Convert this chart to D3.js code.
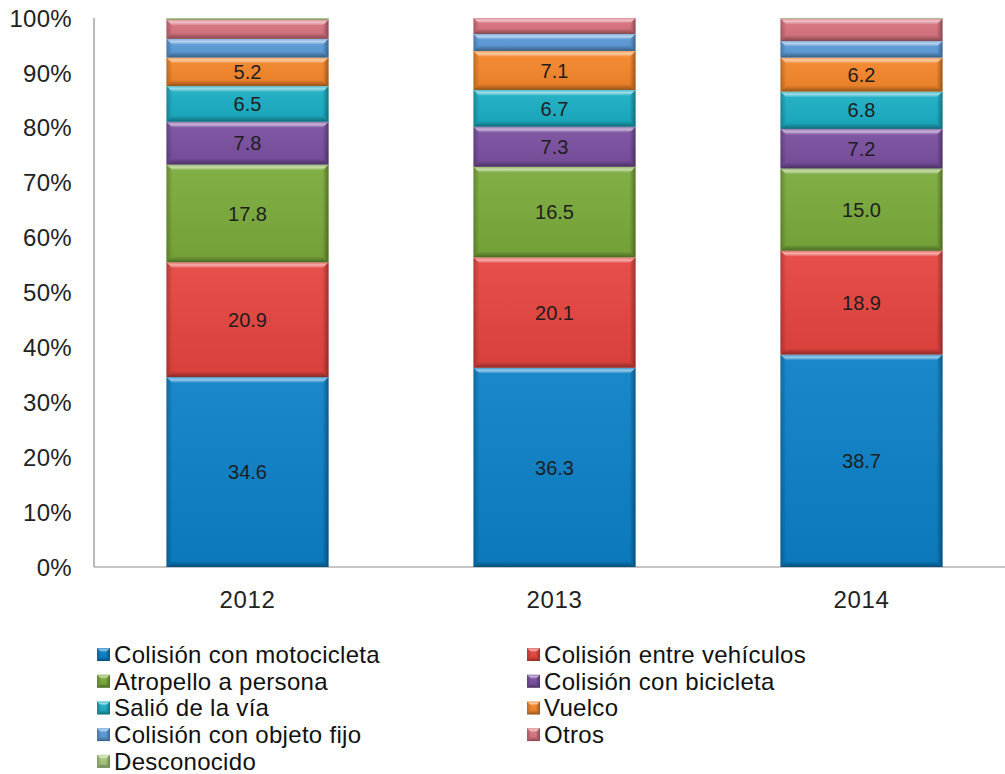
<!DOCTYPE html>
<html>
<head>
<meta charset="utf-8">
<script src="https://cdn.jsdelivr.net/npm/d3@7/dist/d3.min.js"></script>
<style>
  html, body { margin: 0; padding: 0; background: #fff; }
  svg { display: block; font-family: "Liberation Sans", Arial, sans-serif; }
</style>
</head>
<body>
<svg id="chart" width="1005" height="774"></svg>
<script>
// Years on the horizontal axis
const years = ["2012", "2013", "2014"];

// Accident types, stacked bottom to top
const seriesNames = [
  "Colisión con motocicleta",
  "Colisión entre vehículos",
  "Atropello a persona",
  "Colisión con bicicleta",
  "Salió de la vía",
  "Vuelco",
  "Colisión con objeto fijo",
  "Otros",
  "Desconocido"
];

// Share of each type per year (%)
const colisionMotocicleta = [34.6, 36.3, 38.7];
const colisionVehiculos   = [20.9, 20.1, 18.9];
const atropelloPersona    = [17.8, 16.5, 15.0];
const colisionBicicleta   = [7.8, 7.3, 7.2];
const salioVia            = [6.5, 6.7, 6.8];
const vuelco              = [5.2, 7.1, 6.2];
const colisionObjetoFijo  = [3.4, 3.1, 3.0];
const otros               = [3.5, 2.9, 4.1];
const desconocido         = [0.3, 0.0, 0.1];

// Which series carry a printed value
const labelled = [true, true, true, true, true, true, false, false, false];

const yTicks = [0, 10, 20, 30, 40, 50, 60, 70, 80, 90, 100];

const seriesValues = [
  colisionMotocicleta, colisionVehiculos, atropelloPersona, colisionBicicleta,
  salioVia, vuelco, colisionObjetoFijo, otros, desconocido
];

const colors = [
  "#0b80c6", "#e6443f", "#7aaa3a", "#7a4fa0", "#1aaec4",
  "#f5862a", "#5b9bd8", "#d9737f", "#a6c97c"
];

// Build rows for d3.stack
const rows = years.map((y, i) => {
  const r = { year: y };
  seriesNames.forEach((s, k) => { r[s] = seriesValues[k][i]; });
  return r;
});
const stacked = d3.stack().keys(seriesNames)(rows);

const svg = d3.select("#chart");
const x = d3.scaleBand().domain(years).range([94, 1015]).paddingInner(0.472).paddingOuter(0.236);
const y = d3.scaleLinear().domain([0, 100]).range([567, 18]);

// Gradients giving the bars their bevelled look
const defs = svg.append("defs");
const topGrad = defs.append("linearGradient").attr("id", "bevelTop")
  .attr("x1", 0).attr("y1", 0).attr("x2", 0).attr("y2", 1);
topGrad.append("stop").attr("offset", 0).attr("stop-color", "#fff").attr("stop-opacity", 0.15);
topGrad.append("stop").attr("offset", 0.45).attr("stop-color", "#fff").attr("stop-opacity", 0.55);
topGrad.append("stop").attr("offset", 1).attr("stop-color", "#fff").attr("stop-opacity", 0.0);
const botGrad = defs.append("linearGradient").attr("id", "bevelBottom")
  .attr("x1", 0).attr("y1", 0).attr("x2", 0).attr("y2", 1);
botGrad.append("stop").attr("offset", 0).attr("stop-color", "#000").attr("stop-opacity", 0.0);
botGrad.append("stop").attr("offset", 1).attr("stop-color", "#000").attr("stop-opacity", 0.35);
const sideL = defs.append("linearGradient").attr("id", "bevelLeft")
  .attr("x1", 0).attr("y1", 0).attr("x2", 1).attr("y2", 0);
sideL.append("stop").attr("offset", 0).attr("stop-color", "#000").attr("stop-opacity", 0.22);
sideL.append("stop").attr("offset", 1).attr("stop-color", "#000").attr("stop-opacity", 0.0);
const sideR = defs.append("linearGradient").attr("id", "bevelRight")
  .attr("x1", 0).attr("y1", 0).attr("x2", 1).attr("y2", 0);
sideR.append("stop").attr("offset", 0).attr("stop-color", "#000").attr("stop-opacity", 0.0);
sideR.append("stop").attr("offset", 1).attr("stop-color", "#000").attr("stop-opacity", 0.35);
const bodyGrad = defs.append("linearGradient").attr("id", "bodyShade")
  .attr("x1", 0).attr("y1", 0).attr("x2", 0).attr("y2", 1);
bodyGrad.append("stop").attr("offset", 0).attr("stop-color", "#fff").attr("stop-opacity", 0.06);
bodyGrad.append("stop").attr("offset", 1).attr("stop-color", "#000").attr("stop-opacity", 0.06);

function bevelSegment(g, x0, y0, w, h, color) {
  g.append("rect").attr("x", x0).attr("y", y0).attr("width", w).attr("height", h).attr("fill", color);
  if (h <= 0.5) return;
  g.append("rect").attr("x", x0).attr("y", y0).attr("width", w).attr("height", h).attr("fill", "url(#bodyShade)");
  const b = Math.min(6, h / 3);
  // top highlight
  g.append("path")
    .attr("d", `M${x0},${y0}L${x0 + w},${y0}L${x0 + w - b},${y0 + b}L${x0 + b},${y0 + b}Z`)
    .attr("fill", "url(#bevelTop)");
  // bottom shadow
  g.append("path")
    .attr("d", `M${x0},${y0 + h}L${x0 + w},${y0 + h}L${x0 + w - b},${y0 + h - b}L${x0 + b},${y0 + h - b}Z`)
    .attr("fill", "url(#bevelBottom)");
  // sides
  g.append("path")
    .attr("d", `M${x0},${y0}L${x0 + b},${y0 + b}L${x0 + b},${y0 + h - b}L${x0},${y0 + h}Z`)
    .attr("fill", "url(#bevelLeft)");
  g.append("path")
    .attr("d", `M${x0 + w},${y0}L${x0 + w - b},${y0 + b}L${x0 + w - b},${y0 + h - b}L${x0 + w},${y0 + h}Z`)
    .attr("fill", "url(#bevelRight)");
}

// Axes lines
svg.append("line").attr("x1", 94).attr("x2", 94).attr("y1", y(100)).attr("y2", y(0))
  .attr("stroke", "#8c8c8c").attr("stroke-width", 1.2);
svg.append("line").attr("x1", 94).attr("x2", 1005).attr("y1", y(0)).attr("y2", y(0))
  .attr("stroke", "#8c8c8c").attr("stroke-width", 1.2);

// Y tick labels
svg.append("g").selectAll("text").data(yTicks).join("text")
  .attr("x", 72).attr("y", d => y(d)).attr("dy", "0.36em")
  .attr("text-anchor", "end").attr("font-size", 24).attr("letter-spacing", 0.3).attr("fill", "#222")
  .text(d => d + "%");

// X labels
svg.append("g").selectAll("text").data(years).join("text")
  .attr("x", d => x(d) + x.bandwidth() / 2).attr("y", 608)
  .attr("text-anchor", "middle").attr("font-size", 24).attr("letter-spacing", 0.6).attr("fill", "#222")
  .text(d => d);

// Stacked bars
const barsG = svg.append("g");
stacked.forEach((layer, k) => {
  layer.forEach((seg, i) => {
    const x0 = x(years[i]);
    const yTop = y(seg[1]);
    const h = y(seg[0]) - y(seg[1]);
    bevelSegment(barsG, x0, yTop, x.bandwidth(), h, colors[k]);
  });
});

// Value labels
const labG = svg.append("g");
stacked.forEach((layer, k) => {
  if (!labelled[k]) return;
  layer.forEach((seg, i) => {
    labG.append("text")
      .attr("x", x(years[i]) + x.bandwidth() / 2)
      .attr("y", y((seg[0] + seg[1]) / 2))
      .attr("dy", "0.36em").attr("text-anchor", "middle")
      .attr("font-size", 20).attr("fill", "#1e1e1e")
      .text(d3.format(".1f")(seg[1] - seg[0]));
  });
});

// Legend: two columns, filled row by row
const legG = svg.append("g");
seriesNames.forEach((name, k) => {
  const col = k % 2, row = Math.floor(k / 2);
  const lx = col === 0 ? 97 : 527;
  const base = 663 + row * 26.7;
  bevelSegment(legG, lx, base - 15, 13, 13, colors[k]);
  legG.append("text").attr("x", lx + 17).attr("y", base)
    .attr("font-size", 24).attr("letter-spacing", 0.3).attr("fill", "#111").text(name);
});
</script>
</body>
</html>
